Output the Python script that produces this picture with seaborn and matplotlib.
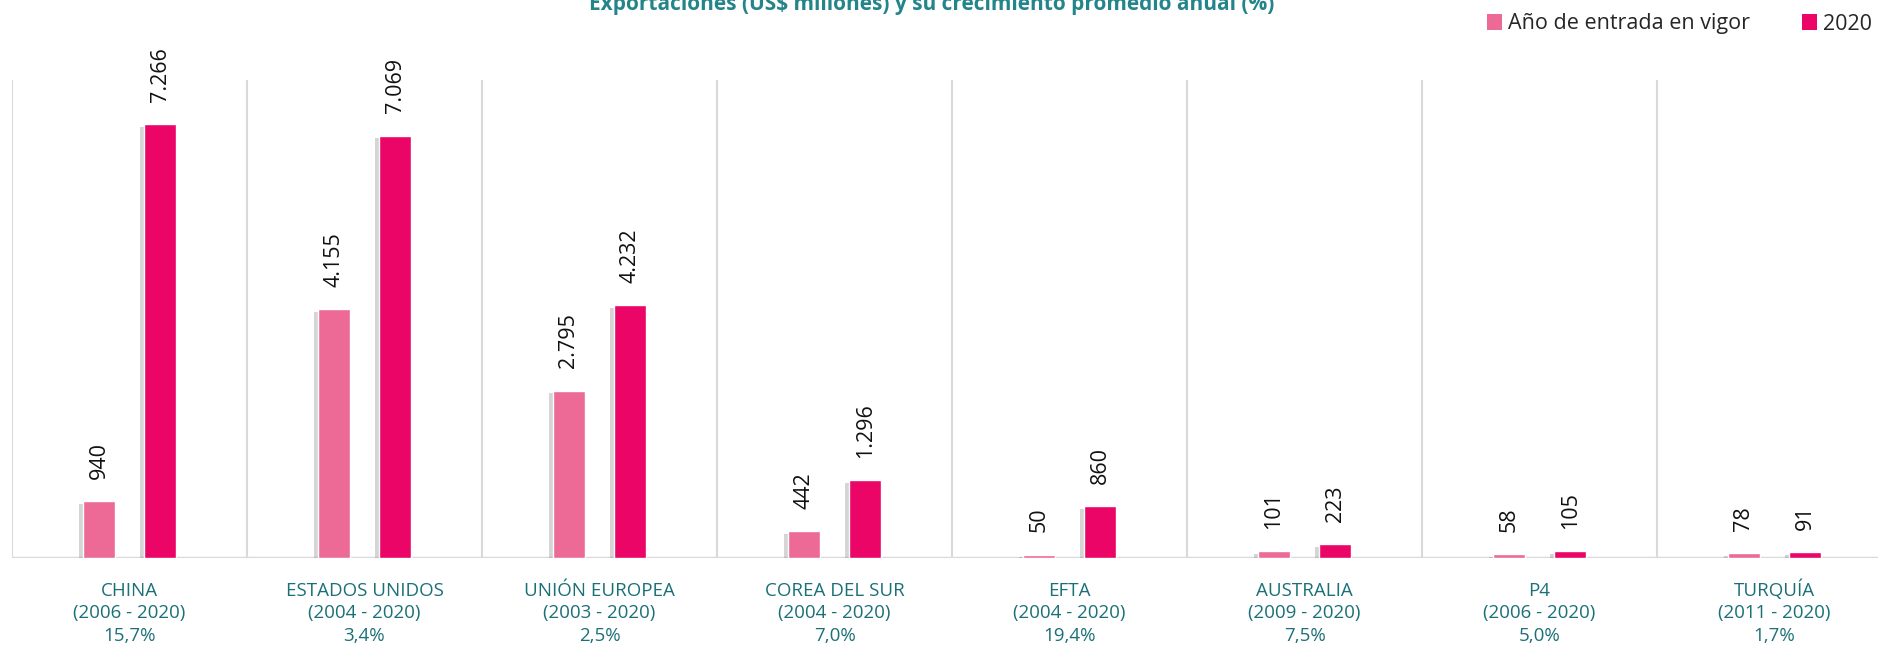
import pandas as pd
import numpy as np
import matplotlib
matplotlib.use("Agg")
import matplotlib.pyplot as plt
import matplotlib.patheffects as pe
from matplotlib.patches import Patch
import seaborn as sns

# Data (US$ millones)
paises = ["CHINA", "ESTADOS UNIDOS", "UNIÓN EUROPEA", "COREA DEL SUR",
          "EFTA", "AUSTRALIA", "P4", "TURQUÍA"]
periodos = ["(2006 - 2020)", "(2004 - 2020)", "(2003 - 2020)", "(2004 - 2020)",
            "(2004 - 2020)", "(2009 - 2020)", "(2006 - 2020)", "(2011 - 2020)"]
crecimiento = ["15,7%", "3,4%", "2,5%", "7,0%", "19,4%", "7,5%", "5,0%", "1,7%"]
entrada_vigor = [940, 4155, 2795, 442, 50, 101, 58, 78]
anio_2020 = [7266, 7069, 4232, 1296, 860, 223, 105, 91]
series = ["Año de entrada en vigor", "2020"]

colors = ["#EC6A95", "#EA0566"]
teal = "#1b7078"


def fmt(v):
    return f"{v:,}".replace(",", ".")


def main():
    sns.set_theme(style="white")
    plt.rcParams["font.family"] = ["Open Sans", "DejaVu Sans"]

    df = pd.DataFrame({"pais": paises,
                       series[0]: entrada_vigor,
                       series[1]: anio_2020})
    long_df = df.melt(id_vars="pais", var_name="serie", value_name="valor")

    fig = plt.figure(figsize=(18.78, 6.47), dpi=100)
    ax = fig.add_axes([12 / 1878, 89.5 / 647, 1880 / 1878, 477.5 / 647])

    sns.barplot(data=long_df, x="pais", y="valor", hue="serie", order=paises,
                hue_order=series, palette=colors, width=0.52, gap=0.477,
                saturation=1, legend=False, ax=ax)

    shadow = [pe.SimplePatchShadow(offset=(-3, -2), shadow_rgbFace="#777777", alpha=0.3),
              pe.Normal()]
    for cont in ax.containers:
        for bar in cont:
            bar.set_path_effects(shadow)
        ax.bar_label(cont, labels=[fmt(int(b.get_height())) for b in cont],
                     rotation=90, padding=16, fontsize=15.5, color="#111111")

    ax.set_xlim(-0.5, 7.5)
    ax.set_ylim(0, 8000)
    ax.set_yticks([])
    ax.set_xlabel("")
    ax.set_ylabel("")
    for s in ax.spines.values():
        s.set_visible(False)

    # separators between groups and baseline
    ax.set_xticks(np.arange(-0.5, 8, 1), minor=True)
    ax.grid(which="minor", axis="x", color="#d9d9d9", lw=1.5)
    ax.grid(which="major", visible=False)
    ax.axhline(0, color="#d9d9d9", lw=2.5, zorder=0.5)

    # three-line category labels; baseline alignment keeps accented names level
    labels = [f"{p}\n{per}\n{c}" for p, per, c in zip(paises, periodos, crecimiento)]
    ax.set_xticks(range(len(paises)))
    ax.set_xticklabels(labels, fontsize=13.5, color=teal, linespacing=1.32)
    for t in ax.get_xticklabels():
        t.set_verticalalignment("baseline")
    ax.tick_params(axis="x", which="both", length=0, pad=60)

    fig.text(0.496, 1 - 10 / 647, "Exportaciones (US$ millones) y su crecimiento promedio anual (%)",
             ha="center", va="baseline", fontsize=15, fontweight="bold", color="#23848a")

    handles = [Patch(facecolor=c, edgecolor="none") for c in colors]
    fig.legend(handles, series, loc="center right", bbox_to_anchor=(0.997, 1 - 24 / 647),
               ncol=2, frameon=False, fontsize=15.5, handlelength=0.7, handleheight=0.7,
               handletextpad=0.3, columnspacing=2.4, borderaxespad=0, borderpad=0)

    fig.savefig("out.png", dpi=100)
    plt.close(fig)


if __name__ == "__main__":
    main()
